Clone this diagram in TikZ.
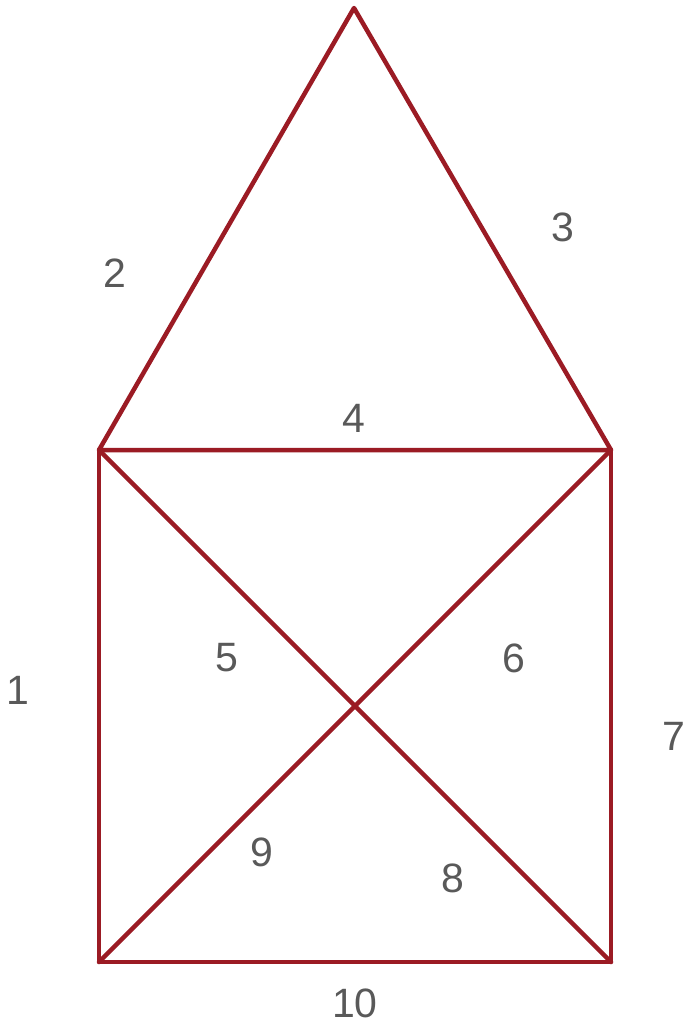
\documentclass[tikz,border=0pt]{standalone}
\usepackage{fontspec}
\setmainfont{Liberation Sans}
\definecolor{edgered}{HTML}{9B1B24}
\definecolor{labelgray}{HTML}{595959}
\tikzset{
  edge/.style={edgered,line width=4.5pt,line cap=round,line join=round},
  num/.style={text=labelgray,font=\fontsize{41}{41}\selectfont,inner sep=0pt}
}
\begin{document}
\begin{tikzpicture}[x=1pt,y=-1pt]
    \useasboundingbox (0,0) rectangle (688,1023);
    % corners of the house
    \coordinate (top) at (354,8);
    \coordinate (tl) at (99,450);
    \coordinate (tr) at (611,450);
    \coordinate (bl) at (99,962);
    \coordinate (br) at (611,962);
    % edges
    \draw[edge] (tl) -- (top) -- (tr) -- cycle;
    \draw[edge] (tl) -- (bl) -- (br) -- (tr);
    \draw[edge] (tl) -- (br);
    \draw[edge] (bl) -- (tr);
    % labels
    \node[num] (n1) at (18,690) {1};
    \node[num] (n2) at (115,273) {2};
    \node[num] (n3) at (563,227) {3};
    \node[num] (n4) at (354,418) {4};
    \node[num] (n5) at (227,658) {5};
    \node[num] (n6) at (514,658) {6};
    \node[num] (n7) at (674,736) {7};
    \node[num] (n8) at (453,878) {8};
    \node[num] (n9) at (262,852) {9};
    \node[num] (n10) at (355,1003) {10};
\end{tikzpicture}
\end{document}
